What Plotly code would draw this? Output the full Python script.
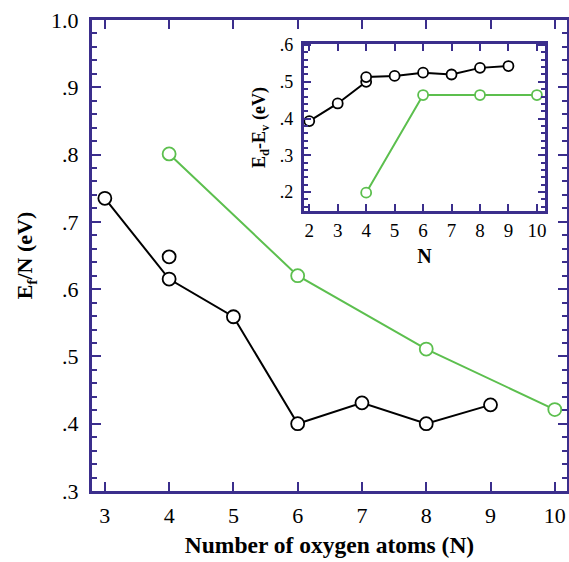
import plotly.graph_objects as go

# Main plot data
black_n = [3, 4, 5, 6, 7, 8, 9]
black_ef = [0.735, 0.615, 0.559, 0.400, 0.431, 0.400, 0.428]
extra_n = [4]
extra_ef = [0.648]
green_n = [4, 6, 8, 10]
green_ef = [0.801, 0.620, 0.511, 0.421]

# Inset data
ins_black_n = [2, 3, 4, 4, 5, 6, 7, 8, 9]
ins_black_e = [0.393, 0.441, 0.500, 0.513, 0.516, 0.525, 0.520, 0.538, 0.543]
ins_green_n = [4, 6, 8, 10]
ins_green_e = [0.198, 0.464, 0.464, 0.464]

main_yticks = [0.3, 0.4, 0.5, 0.6, 0.7, 0.8, 0.9, 1.0]
main_ylabels = [".3", ".4", ".5", ".6", ".7", ".8", ".9", "1.0"]
main_xticks = [3, 4, 5, 6, 7, 8, 9, 10]
ins_yticks = [0.2, 0.3, 0.4, 0.5, 0.6]
ins_ylabels = [".2", ".3", ".4", ".5", ".6"]
ins_xticks = [2, 3, 4, 5, 6, 7, 8, 9, 10]

AX = "#3b2e8c"
GREEN = "#5cbf4e"
FONT = "Liberation Serif"

fig = go.Figure()

mk = dict(symbol="circle", size=13, color="white", line=dict(color="black", width=1.8))
mkg = dict(symbol="circle", size=13, color="white", line=dict(color=GREEN, width=1.8))

fig.add_trace(go.Scatter(x=green_n, y=green_ef, mode="lines+markers",
                         line=dict(color=GREEN, width=2), marker=mkg, xaxis="x", yaxis="y",
                         cliponaxis=False))
fig.add_trace(go.Scatter(x=black_n, y=black_ef, mode="lines+markers",
                         line=dict(color="black", width=2), marker=mk, xaxis="x", yaxis="y"))
fig.add_trace(go.Scatter(x=extra_n, y=extra_ef, mode="markers",
                         marker=mk, xaxis="x", yaxis="y"))

mk2 = dict(symbol="circle", size=10, color="white", line=dict(color="black", width=1.8))
mkg2 = dict(symbol="circle", size=10, color="white", line=dict(color=GREEN, width=1.8))
fig.add_trace(go.Scatter(x=ins_green_n, y=ins_green_e, mode="lines+markers",
                         line=dict(color=GREEN, width=2), marker=mkg2, xaxis="x2", yaxis="y2",
                         cliponaxis=False))
fig.add_trace(go.Scatter(x=ins_black_n, y=ins_black_e, mode="lines+markers",
                         line=dict(color="black", width=2), marker=mk2, xaxis="x2", yaxis="y2",
                         cliponaxis=False))

fig.update_layout(
    width=569, height=562,
    margin=dict(l=92, r=2, t=20, b=71),
    paper_bgcolor="white", plot_bgcolor="white",
    showlegend=False,
    font=dict(family=FONT, color="black", size=20),
    xaxis=dict(
        domain=[0, 1], range=[2.8, 10.19], automargin=False,
        tickvals=main_xticks, ticktext=[str(v) for v in main_xticks],
        ticks="inside", ticklen=9, tickwidth=2, tickcolor=AX,
        showline=True, linecolor=AX, linewidth=3, mirror="ticks",
        showgrid=False, zeroline=False,
        tickfont=dict(size=22), ticklabelstandoff=3, ticklabeloverflow="allow",
        title=dict(text="<b>Number of oxygen atoms (N)</b>", font=dict(size=23.5), standoff=10),
    ),
    yaxis=dict(
        domain=[0, 1], range=[0.3, 1.0], automargin=False,
        tickvals=main_yticks, ticktext=main_ylabels,
        ticks="inside", ticklen=9, tickwidth=2, tickcolor=AX,
        minor=dict(dtick=0.02, tick0=0.3, ticks="inside", ticklen=5, tickwidth=2, tickcolor=AX),
        showline=True, linecolor=AX, linewidth=3, mirror="ticks",
        showgrid=False, zeroline=False,
        tickfont=dict(size=22), ticklabelstandoff=6, ticklabeloverflow="allow",
        title=dict(text="<b>E<sub>f</sub>/N (eV)</b>", font=dict(size=22), standoff=13),
    ),
    xaxis2=dict(
        domain=[0.446, 0.954], range=[1.81, 10.29], anchor="y2", automargin=False,
        tickvals=ins_xticks, ticktext=[str(v) for v in ins_xticks],
        ticks="inside", ticklen=7, tickwidth=2, tickcolor=AX,
        showline=True, linecolor=AX, linewidth=3, mirror="ticks",
        showgrid=False, zeroline=False,
        tickfont=dict(size=19),
        title=dict(text="<b>N</b>", font=dict(size=20), standoff=10),
    ),
    yaxis2=dict(
        domain=[0.5945, 0.949], range=[0.148, 0.603], anchor="x2", automargin=False,
        tickvals=ins_yticks, ticktext=ins_ylabels,
        ticks="inside", ticklen=7, tickwidth=2, tickcolor=AX,
        minor=dict(dtick=0.02, tick0=0.2, ticks="inside", ticklen=4, tickwidth=1.5, tickcolor=AX),
        showline=True, linecolor=AX, linewidth=3, mirror="ticks",
        showgrid=False, zeroline=False,
        tickfont=dict(size=18), ticklabelstandoff=4,
        title=dict(text="<b>E<sub>d</sub>-E<sub>v</sub> (eV)</b>", font=dict(size=18), standoff=10),
    ),
)

fig.write_html(
    "out.html",
    config={"displayModeBar": False},
    post_script="document.body.style.margin='0';document.body.style.overflow='hidden';",
)
